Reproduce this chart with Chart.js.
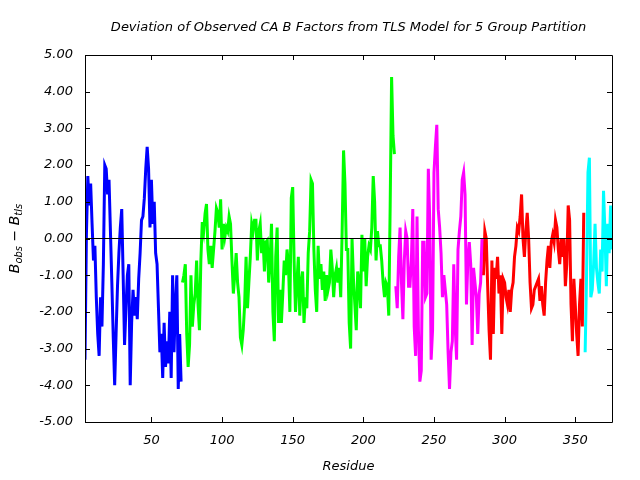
<!DOCTYPE html>
<html>
<head>
<meta charset="utf-8">
<script src="https://cdn.jsdelivr.net/npm/chart.js@4.4.0/dist/chart.umd.min.js"></script>
<style>
  html, body { margin: 0; padding: 0; background: #fff; }
  canvas { display: block; }
</style>
</head>
<body>
<canvas id="chart" width="640" height="480"></canvas>
<script>
// residue ranges and B_obs - B_tls values for each TLS group
const xTicks = [50, 100, 150, 200, 250, 300, 350];
const yTicks = [-5, -4, -3, -2, -1, 0, 1, 2, 3, 4, 5];

const group1Start = 3;
const group1 = [
  -3.3, 0.1, 1.7, 0.9, 1.5, 0.4, -0.6, -0.2, -1.6, -2.6,
  -3.2, -1.6, -2.4, -0.7, 2.0, 1.9, 1.2, 1.6, 0.2, -1.2,
  -2.7, -4.0, -2.6, -1.3, -0.4, 0.3, 0.8, -1.0, -2.9, -1.9,
  -1.0, -0.7, -4.0, -2.3, -1.4, -2.1, -1.6, -2.2, -1.1, -0.4,
  0.5, 0.6, 1.1, 1.9, 2.5, 1.9, 0.3, 1.6, 0.4, 1.0,
  -0.4, -0.7, -1.9, -3.1, -2.6, -3.8, -2.3, -3.5, -2.8, -3.4,
  -2.0, -3.8, -1.0, -3.1, -1.8, -1.0, -4.1, -2.6, -3.9
];

const group2Start = 72;
const group2 = [
  -1.2, -1.0, -0.7, -2.6, -3.5, -2.9, -1.0, -2.4, -1.8, -1.5,
  -0.6, -1.8, -2.5, -0.6, 0.45, 0.2, 0.68, 0.94, -0.3, -0.7,
  -0.2, -0.8, -0.3, 0.2, 0.82, 0.7, 0.3, 1.07, -0.3, 0.4,
  0.05, 0.3, 0.2, 0.6, 0.4, -0.6, -1.5, -1.0, -0.4, -1.2,
  -1.6, -2.7, -2.9, -2.5, -1.8, -0.5, -1.9, -1.2, -0.5, 0.4,
  0.2, 0.5, 0.5, -0.6, 0.2, 0.4, -0.4, 0.0, -0.9, -0.1,
  -0.05, -1.2,
  -0.6, 0.4, -2.0, -2.8, -0.5, 0.3, -2.3, -1.4, -2.3, -1.5,
  -0.6, -1.0, -0.3, -0.7, -2.0, 1.1, 1.4, -0.6, -2.0, -1.2,
  -0.5, -2.1, -1.2, -0.9, -2.3, -1.6, -1.9, -0.4, 0.2, 1.6,
  1.5, -0.3, -1.4, -2.0, -0.2, -1.1, -0.7, -1.4, -0.9, -1.7,
  -1.0, -1.4, -1.2, -0.3, -0.8, -1.6, -1.0, -0.8, -1.2, -0.8,
  -1.6, 0.2, 2.4, 1.5, -0.3, -0.3, -2.3, -3.0, 0.0, -1.1,
  -1.8, -2.5, -0.9, -1.2,
  -1.9, 0.1, -0.9, 0.0, -1.3, -0.5, -0.2, -0.3, 0.3, 1.7,
  1.0, -0.6, 0.2, -0.2, -0.2, -0.6, -1.2, -1.6, -1.2, -1.3,
  -2.1, 0.9, 4.4, 2.8, 2.3
];

const group3Start = 223;
const group3 = [
  -1.3, -1.9, -0.5, 0.3, -1.2, -2.2, -0.6, 0.2, 0.0, -1.3,
  -1.3, -0.6, 0.8, -2.4, -3.2, 0.6, -2.5, -3.9, -3.6, -0.1,
  -0.1, -1.6, -1.5, 1.9, 0.5, -3.3, -2.5, 1.8, 2.5, 3.1,
  0.8, 0.3, -0.4, -1.6, -1.0, -1.4, -1.8, -3.1, -4.1, -3.1,
  -2.8, -0.7, -2.4, -3.3, -0.3, 0.2, 0.6, 1.6, 1.8, 1.2,
  -1.8, -0.6, -0.1, -0.7, -2.9, -0.8, -1.2, -1.6, -2.6, -1.5,
  -1.2, 0.0
];

const group4Start = 285;
const group4 = [
  -1.0, 0.2, 0.0, -1.3, -2.5, -3.3, -0.6, -2.6, -0.8, -1.1,
  -0.5, -1.5, -1.0, -2.6, -1.1, -1.2, -1.6, -1.8, -1.4, -2.0,
  -1.4, -1.2, -0.5, -0.2, 0.3, 0.2, 0.6, 1.2, 0.0, -0.5,
  0.2, 0.7, 0.0, -1.2, -1.9, -1.8, -1.4, -1.3, -1.2, -1.1,
  -1.7, -1.3, -1.8, -2.1, -1.2, -0.6, -0.2, -0.8, -0.1, 0.1,
  -0.1, 0.5, 0.3, -0.3, -0.7, 0.0, -0.5, 0.0, -1.3, -0.7,
  0.9, 0.5, -1.8, -2.8, -1.1, -1.8, -2.6, -3.2, -1.8, -1.1,
  -2.4, 0.7
];

const group5Start = 357;
const group5 = [
  -3.1, -1.0, 1.8, 2.2, -1.6, -1.4, -0.7, 0.4, -0.8, -1.2,
  -1.5, -0.3, -0.9, 1.3, 0.2, -1.3, 0.4, -0.4, 0.9, -0.3
];

const groupColors = ['#0000ff', '#00ff00', '#ff00ff', '#ff0000', '#00ffff'];

function toPoints(start, values) {
  return values.map((v, i) => ({ x: start + i, y: v }));
}

const groups = [
  toPoints(group1Start, group1),
  toPoints(group2Start, group2),
  toPoints(group3Start, group3),
  toPoints(group4Start, group4),
  toPoints(group5Start, group5)
];

const FONT = '"DejaVu Sans", Verdana, sans-serif';

// box, inward ticks, titles
const framePlugin = {
  id: 'frame',
  afterDraw(chart) {
    const ctx = chart.ctx;
    const a = chart.chartArea;
    const xs = chart.scales.x, ys = chart.scales.y;
    ctx.save();
    ctx.strokeStyle = '#000';
    ctx.lineWidth = 1;
    ctx.beginPath();
    ctx.rect(Math.round(a.left) + 0.5, Math.round(a.top) + 0.5,
             Math.round(a.right - a.left), Math.round(a.bottom - a.top));
    xTicks.forEach(v => {
      const px = Math.round(xs.getPixelForValue(v)) + 0.5;
      ctx.moveTo(px, a.bottom); ctx.lineTo(px, a.bottom - 5);
      ctx.moveTo(px, a.top); ctx.lineTo(px, a.top + 5);
    });
    yTicks.forEach(v => {
      const py = Math.round(ys.getPixelForValue(v)) + 0.5;
      ctx.moveTo(a.left, py); ctx.lineTo(a.left + 5, py);
      ctx.moveTo(a.right, py); ctx.lineTo(a.right - 5, py);
    });
    ctx.stroke();

    ctx.fillStyle = '#000';
    ctx.textAlign = 'center';
    ctx.textBaseline = 'middle';
    const cx = (a.left + a.right) / 2;
    ctx.font = 'italic 13px ' + FONT;
    ctx.fillText('Deviation of Observed CA B Factors from TLS Model for 5 Group Partition', cx, 28);
    ctx.fillText('Residue', cx, 467);

    // y axis label with subscripts
    ctx.translate(15, (a.top + a.bottom) / 2);
    ctx.rotate(-Math.PI / 2);
    const parts = [
      { t: 'B', f: 'italic 14px ' + FONT, dy: 0 },
      { t: 'obs', f: 'italic 10px ' + FONT, dy: 4 },
      { t: ' \u2212 ', f: 'italic 14px ' + FONT, dy: 0 },
      { t: 'B', f: 'italic 14px ' + FONT, dy: 0 },
      { t: 'tls', f: 'italic 10px ' + FONT, dy: 4 }
    ];
    let w = 0;
    parts.forEach(p => { ctx.font = p.f; p.w = ctx.measureText(p.t).width; w += p.w; });
    let x = -w / 2;
    ctx.textAlign = 'left';
    parts.forEach(p => { ctx.font = p.f; ctx.fillText(p.t, x, p.dy); x += p.w; });
    ctx.restore();
  }
};

const datasets = [{
  data: [{ x: 3, y: 0 }, { x: 376, y: 0 }],
  borderColor: '#000',
  borderWidth: 1,
  pointRadius: 0
}].concat(groups.map((pts, i) => ({
  data: pts,
  borderColor: groupColors[i],
  borderWidth: 3,
  pointRadius: 0,
  tension: 0
})));

new Chart(document.getElementById('chart').getContext('2d'), {
  type: 'line',
  data: { datasets: datasets },
  options: {
    responsive: false,
    animation: false,
    devicePixelRatio: 1,
    events: [],
    layout: { padding: { top: 55, right: 28, left: 0, bottom: 0 } },
    plugins: { legend: { display: false }, tooltip: { enabled: false } },
    scales: {
      x: {
        type: 'linear',
        min: 3,
        max: 376,
        grid: { display: false, drawTicks: false },
        border: { display: false },
        afterBuildTicks(scale) { scale.ticks = xTicks.map(v => ({ value: v })); },
        afterFit(scale) { scale.height = 58; },
        ticks: {
          padding: 11,
          color: '#000',
          font: { family: FONT, size: 13, style: 'italic' },
          maxRotation: 0
        }
      },
      y: {
        type: 'linear',
        min: -5,
        max: 5,
        grid: { display: false, drawTicks: false },
        border: { display: false },
        afterBuildTicks(scale) { scale.ticks = yTicks.map(v => ({ value: v })); },
        afterFit(scale) { scale.width = 85; },
        ticks: {
          padding: 12,
          color: '#000',
          font: { family: FONT, size: 13, style: 'italic' },
          callback: v => v.toFixed(2)
        }
      }
    }
  },
  plugins: [framePlugin]
});
</script>
</body>
</html>
